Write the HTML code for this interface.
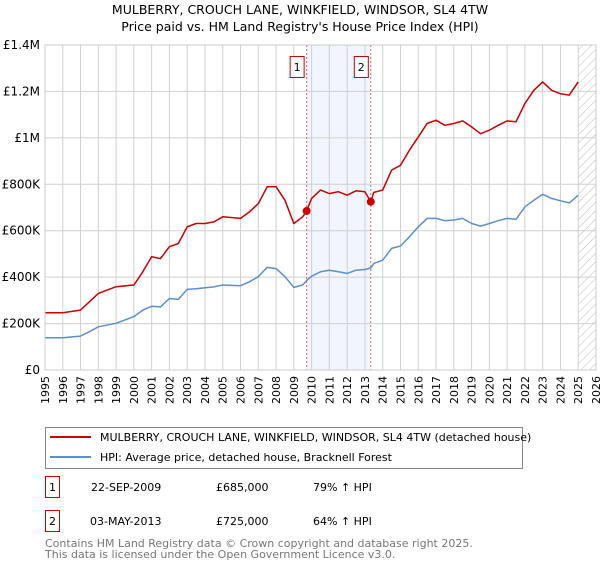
<!DOCTYPE html>
<html><head><meta charset="utf-8"><style>
body{margin:0;background:#fff;font-family:"Liberation Sans","DejaVu Sans",sans-serif;}
svg text{font-family:"DejaVu Sans","Liberation Sans",sans-serif;}
</style></head><body>
<svg width="600" height="560" viewBox="0 0 600 560" xmlns="http://www.w3.org/2000/svg">
<defs><pattern id="hatch" width="6" height="6" patternUnits="userSpaceOnUse" patternTransform="rotate(45)"><line x1="0" y1="0" x2="0" y2="6" stroke="#bbb" stroke-width="1"/></pattern></defs>
<text x="300" y="14" text-anchor="middle" font-size="12.5">MULBERRY, CROUCH LANE, WINKFIELD, WINDSOR, SL4 4TW</text>
<text x="300" y="31" text-anchor="middle" font-size="12.5">Price paid vs. HM Land Registry's House Price Index (HPI)</text>
<g id="plot"></g>
<g>
<rect x="45.5" y="427.5" width="477" height="41" fill="#fff" stroke="#888"/>
<line x1="50" y1="437" x2="91" y2="437" stroke="#cc0000" stroke-width="2"/>
<text x="100" y="441" font-size="11">MULBERRY, CROUCH LANE, WINKFIELD, WINDSOR, SL4 4TW (detached house)</text>
<line x1="50" y1="457" x2="91" y2="457" stroke="#5b8fd0" stroke-width="2"/>
<text x="100" y="461" font-size="11">HPI: Average price, detached house, Bracknell Forest</text>
</g>
<g font-size="11">
<rect x="45.5" y="476.5" width="14" height="21" fill="#fff" stroke="#cc0000"/>
<text x="52.5" y="491" text-anchor="middle">1</text>
<text x="91" y="491">22-SEP-2009</text><text x="216" y="491">£685,000</text><text x="313" y="491">79% ↑ HPI</text>
<rect x="45.5" y="510.5" width="14" height="21" fill="#fff" stroke="#cc0000"/>
<text x="52.5" y="525" text-anchor="middle">2</text>
<text x="90" y="525">03-MAY-2013</text><text x="216" y="525">£725,000</text><text x="313" y="525">64% ↑ HPI</text>
</g>
<text x="45" y="547" font-size="11" fill="#777">Contains HM Land Registry data © Crown copyright and database right 2025.</text>
<text x="45" y="558" font-size="11" fill="#777">This data is licensed under the Open Government Licence v3.0.</text>
</svg>
<script>
const years=[1995,1996,1997,1997.5,1998,1999,2000,2000.5,2001,2001.5,2002,2002.5,2003,2003.5,2004,2004.5,2005,2006,2006.5,2007,2007.5,2008,2008.5,2009,2009.5,2009.72,2010,2010.5,2011,2011.5,2012,2012.5,2013,2013.33,2013.5,2014,2014.5,2015,2015.5,2016,2016.5,2017,2017.5,2018,2018.5,2019,2019.5,2020,2020.5,2021,2021.5,2022,2022.5,2023,2023.5,2024,2024.5,2025];
const propertyValues=[247,247,258,294,330,359,366,423,488,480,531,545,617,631,631,638,660,653,681,717,789,789,731,631,660,685,739,775,760,768,753,772,768,725,765,775,861,882,947,1004,1062,1076,1054,1062,1073,1047,1018,1033,1054,1073,1069,1148,1205,1241,1205,1190,1184,1241];
const hpiValues=[139,139,146,165,186,201,230,258,275,272,308,304,347,350,354,358,366,363,380,402,442,437,402,356,366,385,404,423,430,423,416,430,433,440,459,473,524,534,574,617,653,653,643,646,653,631,620,631,643,653,649,703,731,757,739,729,720,753];
const saleYears=[2009.72,2013.33];
const saleValues=[685,725];
const saleLabels=["1","2"];
const yTicks=[0,200,400,600,800,1000,1200,1400];
const yTickLabels=["£0","£200K","£400K","£600K","£800K","£1M","£1.2M","£1.4M"];
const xTicks=[];for(let y=1995;y<=2026;y++)xTicks.push(y);

const NS="http://www.w3.org/2000/svg";
const X0=45,X1=596,Y0=370,Y1=45;
const xs=y=>X0+(y-1995)/31*(X1-X0);
const ys=v=>Y0-v/1400*(Y0-Y1);
const g=document.getElementById('plot');
function mk(t,a){const e=document.createElementNS(NS,t);for(const k in a)e.setAttribute(k,a[k]);g.appendChild(e);return e;}

const shade=mk('rect',{x:xs(saleYears[0]),y:Y1,width:xs(saleYears[1])-xs(saleYears[0]),height:Y0-Y1,fill:'#f1f5fd'});


const hatch=mk('rect',{x:xs(2025),y:Y1,width:X1-xs(2025),height:Y0-Y1,fill:'url(#hatch)'});


xTicks.forEach(y=>{
  const l=mk('line',{x1:xs(y),x2:xs(y),y1:Y1,y2:Y0,stroke:'#d0d0d0'});
  
  
  const t=mk('text',{x:0,y:0,'font-size':11,'text-anchor':'end',transform:`translate(${xs(y)+4},${Y0+6}) rotate(-90)`});
  t.textContent=y;
  
  
});
yTicks.forEach((v,i)=>{
  const l=mk('line',{x1:X0,x2:X1,y1:ys(v),y2:ys(v),stroke:'#d0d0d0'});
  
  
  const t=mk('text',{x:X0-5,y:ys(v)+4,'font-size':12,'text-anchor':'end'});
  t.textContent=yTickLabels[i];
  
  
});
saleYears.forEach((y,i)=>{
  const l=mk('line',{x1:xs(y),x2:xs(y),y1:Y1,y2:Y0,stroke:'#e06060','stroke-dasharray':'2,2'});
  
  
  const r=mk('rect',{x:xs(y)-16.5,y:56.5,width:14,height:21,fill:'#fff',stroke:'#cc0000'});
  
  
  const t=mk('text',{x:xs(y)-9.5,y:71,'font-size':11,'text-anchor':'middle'});
  t.textContent=saleLabels[i];
  
  
});
function path(vals,color,name){
  const d=years.map((y,i)=>(i?'L':'M')+xs(y).toFixed(1)+','+ys(vals[i]).toFixed(1)).join('');
  const p=mk('path',{d:d,fill:'none',stroke:color,'stroke-width':1.5,'stroke-linejoin':'round'});
  
  
}
path(hpiValues,'#5b8fd0','hpi-line');
path(propertyValues,'#cc0000','property-price-line');
saleYears.forEach((y,i)=>{
  const c=mk('circle',{cx:xs(y),cy:ys(saleValues[i]),r:4,fill:'#cc0000'});
  
  
});
const ax=mk('rect',{x:X0,y:Y1,width:X1-X0,height:Y0-Y1,fill:'none',stroke:'#ccc'});


</script>
</body></html>
